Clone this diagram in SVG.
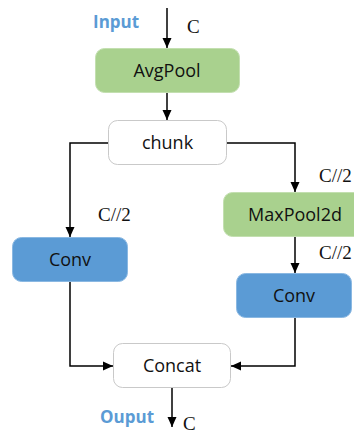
<svg xmlns="http://www.w3.org/2000/svg" width="354" height="435" viewBox="0 0 354 435">
  <style>
    .box rect { rx: 9; ry: 9; }
    .white { fill: #ffffff; stroke: #c9c9c9; stroke-width: 1; }
    .green { fill: #a9d18e; stroke: #c3dfb0; stroke-width: 1; }
    .blue { fill: #5b9bd5; stroke: #8ab8e2; stroke-width: 1; }
    .lbl { font-family: "Open Sans", "Liberation Sans", sans-serif; font-size: 18px; fill: #111; text-anchor: middle; }
    .io { font-family: "Open Sans", "Liberation Sans", sans-serif; font-size: 17px; font-weight: bold; fill: #5b9bd5; }
    .ch { font-family: "Liberation Serif", "Times New Roman", serif; font-size: 19px; fill: #111; }
    .wire { fill: none; stroke: #000; stroke-width: 1.5; }
  </style>
  <defs>
    <marker id="arrow" markerUnits="userSpaceOnUse" markerWidth="10" markerHeight="10" viewBox="0 0 10 10" refX="10" refY="5" orient="auto">
      <path d="M0,0.5 L10,5 L0,9.5 Z" fill="#000"/>
    </marker>
  </defs>

  <g id="connectors">
    <path class="wire" d="M167,8 V48" marker-end="url(#arrow)"/>
    <path class="wire" d="M167,93 V120" marker-end="url(#arrow)"/>
    <path class="wire" d="M108,143 H70 V237" marker-end="url(#arrow)"/>
    <path class="wire" d="M227,143 H295 V192" marker-end="url(#arrow)"/>
    <path class="wire" d="M295,237 V273" marker-end="url(#arrow)"/>
    <path class="wire" d="M70,282 V366 H113" marker-end="url(#arrow)"/>
    <path class="wire" d="M295,317 V366 H231" marker-end="url(#arrow)"/>
    <path class="wire" d="M172,388 V427" marker-end="url(#arrow)"/>
  </g>

  <g id="labels">
    <text class="io" x="93" y="28">Input</text>
    <text class="ch" x="187" y="33">C</text>
    <text class="ch" x="98" y="221">C//2</text>
    <text class="ch" x="319" y="182">C//2</text>
    <text class="ch" x="319" y="259">C//2</text>
    <text class="io" x="100" y="423">Ouput</text>
    <text class="ch" x="183" y="430">C</text>
  </g>

  <g id="avgpool" class="box">
    <rect class="green" x="95.5" y="48.5" width="144" height="44"/>
    <text class="lbl" x="167" y="77">AvgPool</text>
  </g>
  <g id="chunk" class="box">
    <rect class="white" x="108.5" y="120.5" width="118" height="44"/>
    <text class="lbl" x="167.5" y="149">chunk</text>
  </g>
  <g id="conv-left" class="box">
    <rect class="blue" x="12.5" y="237.5" width="115" height="44"/>
    <text class="lbl" x="70" y="266">Conv</text>
  </g>
  <g id="maxpool2d" class="box">
    <rect class="green" x="223.5" y="192.5" width="144" height="44"/>
    <text class="lbl" x="295" y="221">MaxPool2d</text>
  </g>
  <g id="conv-right" class="box">
    <rect class="blue" x="236.5" y="273.5" width="115" height="44"/>
    <text class="lbl" x="294" y="302">Conv</text>
  </g>
  <g id="concat" class="box">
    <rect class="white" x="113.5" y="343.5" width="117" height="44"/>
    <text class="lbl" x="172" y="372">Concat</text>
  </g>
</svg>
